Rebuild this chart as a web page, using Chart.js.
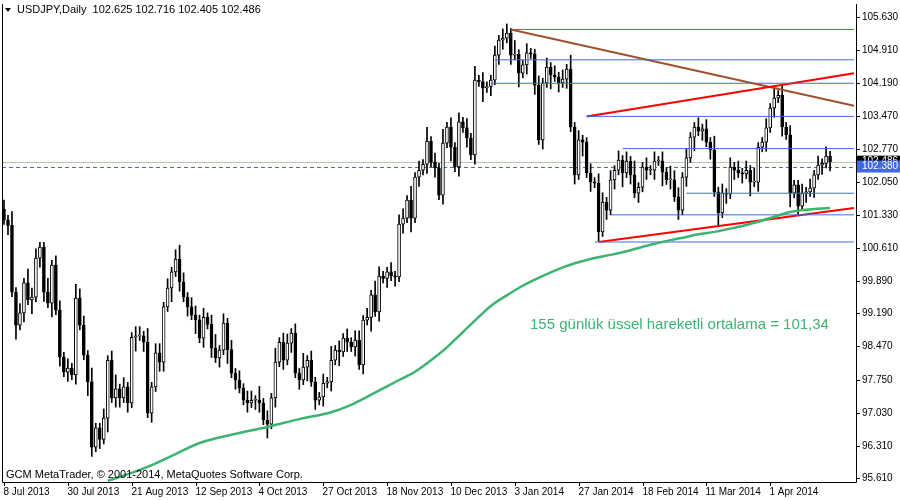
<!DOCTYPE html>
<html><head><meta charset="utf-8">
<script src="https://cdn.jsdelivr.net/npm/chart.js@4.4.1/dist/chart.umd.min.js"></script>
<style>html,body{margin:0;padding:0;background:#fff}</style>
</head><body>
<canvas id="c" width="900" height="500"></canvas>
<script>
const firstOpen = 101.45;
const closes = [
101.22,101.10,99.65,98.93,99.20,99.85,99.48,99.54,100.39,100.63,
99.65,99.41,100.24,99.26,98.24,97.91,98.00,97.85,99.52,98.93,
98.28,97.70,96.28,96.70,96.45,96.91,98.17,97.35,97.55,97.35,
97.59,97.24,98.67,98.70,98.70,98.56,97.02,97.59,98.33,98.13,
99.33,99.74,100.09,100.37,99.87,99.54,99.33,99.15,99.05,98.65,
99.10,98.95,98.43,98.22,98.39,98.98,98.40,97.89,97.74,97.56,
97.30,97.24,97.30,97.30,97.24,96.87,96.78,97.35,98.13,98.56,
98.17,98.54,98.76,97.89,97.74,98.02,98.17,97.70,97.30,97.37,
97.67,97.70,98.17,98.39,98.35,98.65,98.56,98.46,98.61,98.07,
99.04,99.10,99.59,99.22,100.00,99.95,100.09,100.00,99.98,101.13,
101.26,101.65,101.26,102.15,102.30,102.43,102.93,102.47,102.35,101.76,
102.89,103.24,102.80,102.37,103.35,103.22,103.00,102.63,104.26,104.22,
104.09,104.12,104.26,104.80,105.13,105.17,105.28,104.80,104.82,104.41,
104.59,104.85,104.83,104.15,102.96,104.20,104.54,104.37,104.33,104.20,
104.28,104.50,103.24,102.20,102.96,102.91,102.24,102.04,102.02,100.96,
101.61,101.43,102.09,102.30,102.52,102.24,102.50,102.20,101.80,101.93,
102.37,102.30,102.30,102.50,102.50,102.26,102.09,102.09,101.72,101.43,
102.15,102.57,103.02,103.24,103.15,103.20,102.91,102.74,101.83,101.37,
101.80,101.78,102.37,102.30,102.24,102.22,102.30,102.04,102.04,102.80,
102.91,103.22,103.65,103.87,103.93,103.24,103.07,101.80,101.98,101.52,
101.80,101.83,101.91,102.20,102.41,102.45,102.61,102.486];
// wick lengths above / below the body, in tenths of a yen, one digit per bar
const wickUp = "2131213221131221213221311212312112213122121232122121231212121221312131221213121121312121221213211212213121312131212121312112122131121121212121312112122121212131121212132212112121312121212131121212121121212121";
const wickDn = "1213121312213121212113212131221213121212213121213121212131211212213121212121312121213121212131212121213121212121312121213121221213121212131212121312121212131212121213121212131212131212121312121212131212121212";
const dateLabels = ["8 Jul 2013","30 Jul 2013","21 Aug 2013","12 Sep 2013","4 Oct 2013","27 Oct 2013","18 Nov 2013","10 Dec 2013","3 Jan 2014","27 Jan 2014","18 Feb 2014","11 Mar 2014","1 Apr 2014"];
const yTicks = [105.630,104.910,104.190,103.470,102.770,102.050,101.330,100.610,99.890,99.190,98.470,97.750,97.030,96.310,95.610];
const emaPoints = [[26,95.55],[32,95.72],[37,95.89],[43,96.13],[49,96.37],[57,96.55],[66,96.72],[74,96.89],[82,97.04],[87,97.20],[92,97.42],[99,97.74],[103,97.92],[107,98.17],[111,98.45],[114,98.70],[118,99.03],[122,99.35],[126,99.58],[129,99.74],[133,99.92],[137,100.08],[141,100.22],[144,100.30],[148,100.39],[152,100.46],[156,100.54],[159,100.61],[163,100.70],[167,100.78],[171,100.85],[174,100.91],[178,100.96],[182,101.03],[186,101.11],[189,101.18],[193,101.29],[197,101.39],[201,101.44],[207,101.48]];
const levels = [[127,105.36],[123,104.70],[122,104.19],[146,103.47],[155,102.77],[171,101.80],[152,101.33],[148,100.74]];
const redUpper = [[146,103.47],[213,104.41]];
const redLower = [[149,100.74],[213,101.48]];
const brownLine = [[127,105.36],[213,103.70]];
const lastPrice = 102.486, bidLine = 102.380;

const N = 214;
const opens = closes.map((c,i)=> i===0 ? firstOpen : closes[i-1]);
const highs = closes.map((c,i)=> Math.max(c,opens[i]) + (+wickUp[i]||1)/10);
const lows  = closes.map((c,i)=> Math.min(c,opens[i]) - (+wickDn[i]||1)/10);
const labels = Array.from({length:N},(_, i)=>i);
function series(pts){const a=new Array(N).fill(null);pts.forEach(p=>a[p[0]]=p[1]);return a;}
const lineDs=(pts,color,w,smooth)=>({type:'line',data:series(pts),borderColor:color,borderWidth:w,pointRadius:0,spanGaps:true,order:0,cubicInterpolationMode:smooth?'monotone':'default',tension:0});
const up = closes.map((c,i)=>c>=opens[i]);
const datasets = [
 {type:'bar',data:closes.map((c,i)=>[lows[i],highs[i]]),backgroundColor:'#000',barThickness:1,grouped:false,order:3},
 {type:'bar',data:closes.map((c,i)=>[opens[i],c]),backgroundColor:up.map(u=>u?'#fff':'#000'),borderColor:'#000',borderWidth:1,borderSkipped:false,barThickness:3,grouped:false,order:2,minBarLength:1},
 lineDs(emaPoints,'#3cb371',2.5,true),
 ...levels.map(l=>lineDs([l,[213,l[1]]],'#4169e1',1)),
 lineDs(redUpper,'#ff0000',2),
 lineDs(redLower,'#ff0000',2),
 lineDs(brownLine,'#a0522d',2),
];
const font='11px "DejaVu Sans", sans-serif';
const small='10px "Liberation Sans", Arial, sans-serif';
const deco = {
 id:'deco',
 beforeDraw(ch){const c=ch.ctx;c.save();c.fillStyle='#fff';c.fillRect(0,0,900,500);
  const a=ch.chartArea, y=ch.scales.y;
  c.strokeStyle='#c0c0c0';c.lineWidth=1;c.beginPath();c.moveTo(a.left,Math.round(y.getPixelForValue(lastPrice))+.5);c.lineTo(a.right,Math.round(y.getPixelForValue(lastPrice))+.5);c.stroke();
  c.strokeStyle='#4169e1';c.setLineDash([4,3]);c.beginPath();c.moveTo(a.left,Math.round(y.getPixelForValue(bidLine))+.5);c.lineTo(a.right,Math.round(y.getPixelForValue(bidLine))+.5);c.stroke();c.setLineDash([]);
  c.restore();},
 afterDraw(ch){const c=ch.ctx,a=ch.chartArea,y=ch.scales.y,x=ch.scales.x;c.save();
  c.strokeStyle='#000';c.lineWidth=1;c.beginPath();
  c.moveTo(a.left+.5,a.top);c.lineTo(a.left+.5,a.bottom+.5);c.lineTo(a.right+.5,a.bottom+.5);c.lineTo(a.right+.5,a.top);c.stroke();
  c.font=small;c.fillStyle='#000';c.textBaseline='middle';
  yTicks.forEach(v=>{const p=Math.round(y.getPixelForValue(v))+.5;c.beginPath();c.moveTo(a.right,p);c.lineTo(a.right+4,p);c.stroke();c.fillText(v.toFixed(3),a.right+6,p);});
  c.textBaseline='top';
  dateLabels.forEach((d,k)=>{const p=Math.round(x.getPixelForValue(k*16))+.5;c.beginPath();c.moveTo(p,a.bottom);c.lineTo(p,a.bottom+4);c.stroke();c.fillText(d,p-1,a.bottom+5);});
  const box=(v,bg,t)=>{const p=y.getPixelForValue(v);c.fillStyle=bg;c.fillRect(a.right+1,p-6,44,12);c.fillStyle='#fff';c.textBaseline='middle';c.fillText(t,a.right+6,p);};
  box(lastPrice,'#000',lastPrice.toFixed(3));box(bidLine,'#4169e1',bidLine.toFixed(3));
  c.fillStyle='#000';c.font=font;c.textBaseline='middle';
  c.beginPath();c.moveTo(5,8);c.lineTo(11,8);c.lineTo(8,12);c.closePath();c.fill();
  c.font='11px "Liberation Sans", Arial, sans-serif';
  c.fillText('USDJPY,Daily  102.625 102.716 102.405 102.486',17,10);
  c.fillText('GCM MetaTrader, © 2001-2014, MetaQuotes Software Corp.',6,475);
  c.fillStyle='#3cb371';c.font='15px "Liberation Sans", Arial, sans-serif';
  c.fillText('155 günlük üssel hareketli ortalama = 101,34',530,325);
  c.restore();}
};
new Chart(document.getElementById('c'),{
 data:{labels,datasets},
 options:{responsive:false,animation:false,devicePixelRatio:1,
  layout:{padding:{left:2,right:44,top:4,bottom:18}},
  plugins:{legend:{display:false},tooltip:{enabled:false}},
  scales:{x:{type:'category',display:false,offset:true},
          y:{display:false,min:95.523,max:105.913}}},
 plugins:[deco]
});
</script>
</body></html>
